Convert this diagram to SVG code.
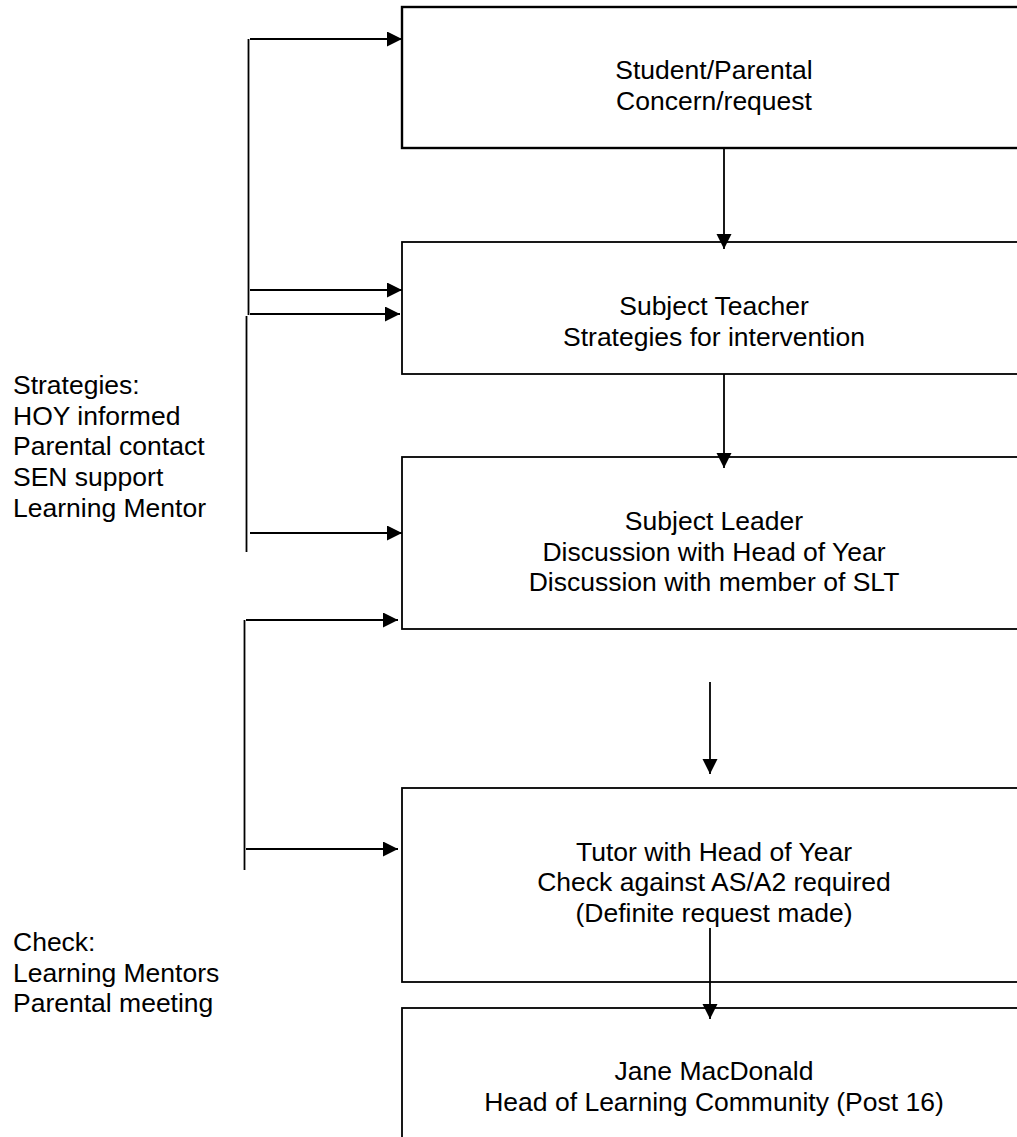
<svg xmlns="http://www.w3.org/2000/svg" width="1017" height="1137" viewBox="0 0 1017 1137">
<style>
.box{fill:#fff;stroke:#000;stroke-width:1.8}
.box.thick{stroke-width:2.4}
.t{font-family:"Liberation Sans",Arial,sans-serif;font-size:26.5px;fill:#000}
.c{text-anchor:middle}
.ln{stroke:#000;stroke-width:1.8;fill:none}
</style>
<defs>
<marker id="ah" markerUnits="userSpaceOnUse" markerWidth="16" markerHeight="16" refX="15" refY="7.5" orient="auto">
<path d="M0,0 L15,7.5 L0,15 Z" fill="#000"/>
</marker>
</defs>
<rect width="1017" height="1137" fill="#fff"/>
<g id="n1">
<rect class="box thick" x="402" y="7" width="624" height="141"/>
<text class="t c" x="714" y="79">Student/Parental</text>
<text class="t c" x="714" y="110">Concern/request</text>
</g>
<g id="n2">
<rect class="box" x="402" y="242" width="624" height="132"/>
<text class="t c" x="714" y="315">Subject Teacher</text>
<text class="t c" x="714" y="346">Strategies for intervention</text>
</g>
<g id="n3">
<rect class="box" x="402" y="457" width="624" height="172"/>
<text class="t c" x="714" y="530">Subject Leader</text>
<text class="t c" x="714" y="561">Discussion with Head of Year</text>
<text class="t c" x="714" y="591">Discussion with member of SLT</text>
</g>
<g id="n4">
<rect class="box" x="402" y="788" width="624" height="194"/>
<text class="t c" x="714" y="861">Tutor with Head of Year</text>
<text class="t c" x="714" y="891">Check against AS/A2 required</text>
<text class="t c" x="714" y="922">(Definite request made)</text>
</g>
<g id="n5">
<rect class="box" x="402" y="1008" width="624" height="200"/>
<text class="t c" x="714" y="1080">Jane MacDonald</text>
<text class="t c" x="714" y="1111">Head of Learning Community (Post 16)</text>
</g>
<g id="strategies">
<text class="t" x="13" y="394">Strategies:</text>
<text class="t" x="13" y="425">HOY informed</text>
<text class="t" x="13" y="455">Parental contact</text>
<text class="t" x="13" y="486">SEN support</text>
<text class="t" x="13" y="517">Learning Mentor</text>
</g>
<g id="check">
<text class="t" x="13" y="951">Check:</text>
<text class="t" x="13" y="982">Learning Mentors</text>
<text class="t" x="13" y="1012">Parental meeting</text>
</g>
<g id="connectors">
<line class="ln" x1="724" y1="148" x2="724" y2="249" marker-end="url(#ah)"/>
<line class="ln" x1="724" y1="374" x2="724" y2="468" marker-end="url(#ah)"/>
<line class="ln" x1="710" y1="682" x2="710" y2="774" marker-end="url(#ah)"/>
<line class="ln" x1="710" y1="928" x2="710" y2="1019" marker-end="url(#ah)"/>
<line class="ln" x1="248.5" y1="39" x2="248.5" y2="315"/>
<line class="ln" x1="250" y1="39" x2="402" y2="39" marker-end="url(#ah)"/>
<line class="ln" x1="250" y1="290" x2="402" y2="290" marker-end="url(#ah)"/>
<line class="ln" x1="250" y1="314" x2="400" y2="314" marker-end="url(#ah)"/>
<line class="ln" x1="246.5" y1="316" x2="246.5" y2="552"/>
<line class="ln" x1="250" y1="533" x2="402" y2="533" marker-end="url(#ah)"/>
<line class="ln" x1="244.5" y1="620" x2="244.5" y2="870"/>
<line class="ln" x1="246" y1="620" x2="398" y2="620" marker-end="url(#ah)"/>
<line class="ln" x1="246" y1="849" x2="398" y2="849" marker-end="url(#ah)"/>
</g>
</svg>
